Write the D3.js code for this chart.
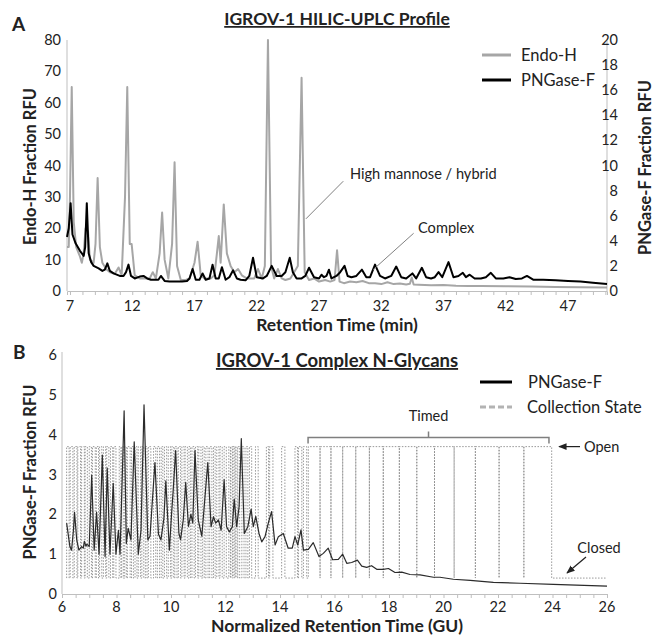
<!DOCTYPE html>
<html>
<head>
<meta charset="utf-8">
<script src="https://cdn.jsdelivr.net/npm/d3@7"></script>
<style>
body { margin: 0; background: #fff; }
text { font-family: Lato, "Open Sans", sans-serif; fill: #222; }
</style>
</head>
<body>
<div id="fig"></div>
<script>
// ---- panel A : HILIC-UPLC profile ----
var ticksA = [7, 12, 17, 22, 27, 32, 37, 42, 47];
var ticksLeftA = [0, 10, 20, 30, 40, 50, 60, 70, 80];
var ticksRightA = [0, 2, 4, 6, 8, 10, 12, 14, 16, 18, 20];

// Endo-H fraction (left axis), [min, RFU]
var endoH = [[6.76,14],[6.9,14],[7.0,30],[7.14,65],[7.3,22],[7.5,14],[7.8,11],[7.95,9],[8.1,12],[8.25,20],[8.45,19],[8.6,10],
  [8.9,9],[9.05,15],[9.22,36],[9.4,14],[9.6,9],[9.9,7],[10.2,6],[10.6,5.5],[10.9,7.5],[11.15,5],[11.42,30],[11.6,65],
  [11.8,15],[11.95,15],[12.2,5],[12.6,4],[13.0,4],[13.4,4],[13.65,6],[13.9,4],[14.2,12],[14.4,25],[14.6,10],[14.9,4],
  [15.2,15],[15.4,41],[15.6,8],[15.9,3.5],[16.3,3.5],[16.6,4],[17.0,9],[17.25,15.7],[17.5,5],[17.8,4],[18.3,4],[18.6,5],
  [18.8,12],[18.95,17.5],[19.1,9],[19.35,27.6],[19.6,12],[19.9,8],[20.2,6],[20.5,7],[20.8,5],[21.2,4],[21.5,4],[21.8,4],
  [22.1,7],[22.4,4],[22.65,8],[22.9,80],[23.15,8],[23.4,4],[23.7,7],[24.0,4],[24.3,3.5],[24.7,4],[25.3,8],[25.6,68],
  [25.85,6],[26.2,3.5],[26.6,4],[27.0,3],[27.5,3.5],[27.9,3],[28.25,3.5],[28.45,13],[28.65,3],[29.0,2.5],[29.5,3],
  [30.0,2.8],[30.5,3.2],[31.0,2.5],[31.5,2.5],[32.0,2.2],[32.5,2.8],[33.0,2.2],[33.5,2.4],[34.0,2.1],[34.3,2.3],
  [34.45,4.3],[34.6,2.1],[35.0,2.0],[36.0,1.8],[37.0,1.9],[38.0,1.7],[39.0,1.6],[40.0,1.6],[42.0,1.5],[44.0,1.4],
  [46.0,1.3],[48.0,1.2],[50.13,1.1]];

// PNGase-F fraction (right axis), [min, RFU]
var pngA = [[6.76,4.3],[6.9,5],[7.05,7.0],[7.2,4.5],[7.45,3.8],[7.8,3.2],[8.1,2.8],[8.22,3.5],[8.35,7.0],[8.5,3.0],
  [8.7,2.3],[8.9,2.0],[9.3,1.8],[9.6,1.6],[9.8,1.7],[10.0,2.2],[10.2,1.6],[10.5,1.4],[11.0,1.2],[11.3,1.2],[11.5,1.5],
  [11.7,2.1],[11.9,1.2],[12.2,1.0],[12.6,1.15],[12.9,1.2],[13.2,1.0],[13.5,0.9],[13.8,0.9],[14.1,0.9],[14.3,1.2],
  [14.6,0.8],[15.0,0.75],[15.5,0.75],[16.0,0.75],[16.4,0.8],[16.6,1.0],[16.85,1.75],[17.1,0.9],[17.4,0.9],[17.65,1.4],
  [17.9,0.9],[18.2,1.0],[18.45,2.1],[18.7,1.0],[18.95,1.0],[19.2,1.9],[19.5,0.9],[19.8,1.1],[20.1,1.65],[20.4,1.0],
  [20.7,0.9],[21.1,0.85],[21.4,1.2],[21.7,2.65],[22.0,1.1],[22.5,1.0],[22.8,1.2],[23.2,2.0],[23.6,1.2],[24.0,1.2],
  [24.3,1.5],[24.65,2.65],[24.9,1.5],[25.2,1.0],[25.6,1.0],[25.9,1.2],[26.2,1.85],[26.6,1.1],[27.0,1.0],[27.2,1.3],
  [27.4,1.1],[27.6,1.2],[27.8,1.7],[28.0,1.0],[28.4,1.2],[28.7,1.5],[29.05,2.0],[29.3,1.2],[29.6,1.1],[30.0,1.2],
  [30.45,1.7],[30.8,1.1],[31.1,1.1],[31.5,2.1],[31.9,1.2],[32.3,1.0],[32.8,1.2],[33.2,1.95],[33.6,1.1],[34.0,1.0],
  [34.5,1.4],[34.8,1.0],[35.26,1.85],[35.6,1.1],[36.0,1.0],[36.3,1.1],[36.6,1.5],[36.9,1.1],[37.4,2.3],[37.8,1.1],
  [38.2,1.2],[38.55,1.45],[38.8,1.1],[39.1,1.3],[39.5,1.0],[40.0,1.0],[40.4,1.1],[40.8,1.45],[41.2,1.0],[41.8,1.0],
  [42.3,1.1],[42.8,0.95],[43.3,1.0],[43.7,1.2],[44.2,0.9],[45.0,0.9],[46.0,0.85],[47.0,0.8],[48.0,0.75],[49.0,0.65],
  [50.13,0.55]];

// ---- panel B : complex N-glycans ----
var ticksB = [6, 8, 10, 12, 14, 16, 18, 20, 22, 24, 26];
var ticksLeftB = [0, 1, 2, 3, 4, 5, 6];

// PNGase-F trace, [GU, RFU]
var pngB = [[6.17,1.78],[6.29,1.19],[6.35,1.1],[6.42,1.6],[6.46,2.05],[6.54,1.36],[6.62,1.1],[6.72,1.19],[6.78,1.15],
  [6.82,1.32],[6.88,1.2],[6.91,1.25],[6.96,1.22],[7.0,1.19],[7.09,2.98],[7.18,1.1],[7.27,2.05],[7.36,1.0],[7.48,3.49],
  [7.58,0.94],[7.66,3.16],[7.76,1.0],[7.88,2.78],[7.98,1.0],[8.07,1.6],[8.13,1.0],[8.28,4.6],[8.36,1.27],[8.43,1.65],
  [8.53,1.36],[8.65,3.82],[8.8,1.0],[8.9,1.6],[9.01,4.75],[9.15,1.36],[9.23,1.45],[9.41,3.3],[9.54,1.5],[9.63,1.36],
  [9.74,1.9],[9.81,2.84],[9.94,1.1],[10.02,2.0],[10.08,2.6],[10.17,3.6],[10.29,1.53],[10.35,1.36],[10.45,1.86],
  [10.54,2.8],[10.64,1.7],[10.73,2.0],[10.8,1.78],[10.88,3.6],[11.0,1.86],[11.13,1.45],[11.35,3.3],[11.47,1.69],
  [11.56,1.94],[11.64,1.78],[11.74,1.86],[11.84,1.6],[11.95,2.87],[12.04,1.69],[12.14,1.56],[12.25,1.69],[12.32,2.38],
  [12.41,1.69],[12.5,2.2],[12.58,3.9],[12.69,1.52],[12.82,1.69],[12.94,2.13],[13.02,1.69],[13.11,1.95],[13.23,1.52],
  [13.33,1.31],[13.45,1.44],[13.57,1.78],[13.69,2.07],[13.82,1.23],[13.94,1.44],[14.12,1.52],[14.3,1.15],[14.45,1.15],
  [14.55,1.44],[14.65,1.23],[14.77,1.61],[14.86,1.1],[15.04,1.12],[15.22,1.29],[15.43,0.94],[15.59,1.02],[15.77,1.15],
  [15.93,0.86],[16.14,0.87],[16.3,1.0],[16.45,0.77],[16.63,0.79],[16.84,0.85],[17.0,0.7],[17.18,0.67],[17.36,0.71],
  [17.55,0.62],[17.79,0.62],[17.98,0.64],[18.22,0.54],[18.47,0.55],[18.77,0.49],[19.14,0.48],[19.63,0.42],[19.87,0.42],
  [20.36,0.37],[20.98,0.34],[21.83,0.29],[22.81,0.27],[24.03,0.24],[26.0,0.2]];

// collection state: open windows before the timed part, [GU start, GU end]
var earlyWindows = [[6.17,6.26],[6.30,6.40],[6.45,6.55],[6.58,6.68],[6.72,6.82],[6.85,6.93],[7.00,7.08],[7.12,7.22],
  [7.26,7.34],[7.38,7.46],[7.52,7.60],[7.64,7.72],[7.78,7.86],[7.90,7.98],[8.10,8.16],[8.19,8.25],[8.30,8.36],
  [8.40,8.50],[8.55,8.62],[8.68,8.75],[8.80,8.88],[8.93,9.00],[9.06,9.12],[9.17,9.26],[9.36,9.44],[9.50,9.58],
  [9.64,9.70],[9.76,9.84],[9.90,9.98],[10.03,10.10],[10.14,10.22],[10.27,10.35],[10.40,10.48],[10.52,10.60],
  [10.66,10.72],[10.77,10.85],[10.90,10.98],[11.02,11.10],[11.16,11.22],[11.28,11.36],[11.42,11.50],[11.56,11.62],
  [11.68,11.76],[11.80,11.88],[11.95,12.03],[12.12,12.18],[12.20,12.26],[12.28,12.34],[12.36,12.42],[12.45,12.52],
  [12.60,12.68],[12.75,12.82],[12.88,12.96],[13.10,13.20],[13.50,13.58],[13.62,13.74],[14.06,14.18],[14.55,14.64],
  [14.68,14.80],[14.86,14.98]];
// timed part: open from start to end, briefly closed at each cut
var timedStart = 15.04, timedEnd = 23.97;
var timedCuts = [15.47, 15.87, 16.30, 16.78, 17.28, 17.79, 18.38, 19.02, 19.67, 20.39, 21.17, 22.04, 22.95];
var stateOpen = 3.7, stateClosed = 0.4;

var W = 654, H = 635;
var svg = d3.select('#fig').append('svg')
    .attr('width', W)
    .attr('height', H);

var axisCol = '#bfbfbf';

// ======== panel A ========
var xA = d3.scaleLinear().domain([6.76, 50.13]).range([67, 607]);
var yL = d3.scaleLinear().domain([0, 80]).range([291, 40]);
var yR = d3.scaleLinear().domain([0, 20]).range([291, 40]);

var gA = svg.append('g');

gA.append('line').attr('x1', xA.range()[0]).attr('x2', xA.range()[0])
    .attr('y1', 40).attr('y2', 291).attr('stroke', axisCol);
gA.append('line').attr('x1', xA.range()[1]).attr('x2', xA.range()[1])
    .attr('y1', 40).attr('y2', 291).attr('stroke', axisCol);

var axA = d3.axisBottom(xA).tickValues(d3.range(7, 51)).tickSize(4).tickFormat('');
gA.append('g').attr('transform', 'translate(0,291)').call(axA)
    .call(function(g){ g.selectAll('line, path').attr('stroke', axisCol); });

gA.selectAll('.xl').data(ticksA).enter().append('text')
    .attr('x', function(d){ return xA(d); })
    .attr('y', 311)
    .attr('text-anchor', 'middle')
    .attr('font-size', 14.5)
    .text(function(d){ return d; });

gA.selectAll('.yl').data(ticksLeftA).enter().append('text')
    .attr('x', 61)
    .attr('y', function(d){ return yL(d) + 5; })
    .attr('text-anchor', 'end')
    .attr('font-size', 14.5)
    .text(function(d){ return d; });

gA.selectAll('.yr').data(ticksRightA).enter().append('text')
    .attr('x', 618)
    .attr('y', function(d){ return yR(d) + 5; })
    .attr('text-anchor', 'end')
    .attr('font-size', 14.5)
    .text(function(d){ return d; });

var lineL = d3.line().x(function(d){ return xA(d[0]); }).y(function(d){ return yL(d[1]); });
var lineR = d3.line().x(function(d){ return xA(d[0]); }).y(function(d){ return yR(d[1]); });

gA.append('path').datum(endoH).attr('d', lineL)
    .attr('fill', 'none').attr('stroke', '#a6a6a6').attr('stroke-width', 2).attr('stroke-linejoin', 'round');
gA.append('path').datum(pngA).attr('d', lineR)
    .attr('fill', 'none').attr('stroke', '#000').attr('stroke-width', 2).attr('stroke-linejoin', 'round');

// legend A
gA.append('line').attr('x1', 482).attr('x2', 511).attr('y1', 55).attr('y2', 55)
    .attr('stroke', '#a6a6a6').attr('stroke-width', 3);
gA.append('text').attr('x', 521).attr('y', 61).attr('font-size', 16.5).text('Endo-H');
gA.append('line').attr('x1', 482).attr('x2', 511).attr('y1', 80).attr('y2', 80)
    .attr('stroke', '#000').attr('stroke-width', 3);
gA.append('text').attr('x', 521).attr('y', 86).attr('font-size', 16.5).text('PNGase-F');

// annotations A
gA.append('line').attr('x1', xA(25.95)).attr('y1', yL(23)).attr('x2', xA(28.95)).attr('y2', yL(35))
    .attr('stroke', '#808080');
gA.append('text').attr('x', 350).attr('y', 179).attr('font-size', 14.6).text('High mannose / hybrid');
gA.append('line').attr('x1', xA(31.35)).attr('y1', yR(1.7)).attr('x2', xA(34.6)).attr('y2', yR(4.6))
    .attr('stroke', '#808080');
gA.append('text').attr('x', 418).attr('y', 233).attr('font-size', 14.6).text('Complex');

// titles A
gA.append('text').attr('x', 337).attr('y', 25).attr('text-anchor', 'middle')
    .attr('font-size', 17.5).attr('font-weight', 'bold').attr('text-decoration', 'underline')
    .text('IGROV-1 HILIC-UPLC Profile');
gA.append('text').attr('x', 12).attr('y', 31).attr('font-size', 19).attr('font-weight', 'bold').text('A');
gA.append('text').attr('x', 337).attr('y', 331).attr('text-anchor', 'middle')
    .attr('font-size', 17.5).attr('font-weight', 'bold').text('Retention Time (min)');
gA.append('text').attr('transform', 'translate(36,166.5) rotate(-90)').attr('text-anchor', 'middle')
    .attr('font-size', 16.5).attr('font-weight', 'bold').text('Endo-H Fraction RFU');
gA.append('text').attr('transform', 'translate(651,167.5) rotate(-90)').attr('text-anchor', 'middle')
    .attr('font-size', 16.5).attr('font-weight', 'bold').text('PNGase-F Fraction RFU');

// ======== panel B ========
var xB = d3.scaleLinear().domain([6, 26]).range([62, 607]);
var yB = d3.scaleLinear().domain([0, 6]).range([594, 355]);

var gB = svg.append('g');

gB.append('line').attr('x1', xB(6)).attr('x2', xB(6))
    .attr('y1', 352).attr('y2', 594).attr('stroke', axisCol);

var axB = d3.axisBottom(xB).tickValues(d3.range(6, 26.01, 0.5)).tickSize(4).tickFormat('');
gB.append('g').attr('transform', 'translate(0,594)').call(axB)
    .call(function(g){ g.selectAll('line, path').attr('stroke', axisCol); });

gB.selectAll('.xl').data(ticksB).enter().append('text')
    .attr('x', function(d){ return xB(d); })
    .attr('y', 612)
    .attr('text-anchor', 'middle')
    .attr('font-size', 14.5)
    .text(function(d){ return d; });

gB.selectAll('.yl').data(ticksLeftB).enter().append('text')
    .attr('x', 57)
    .attr('y', function(d){ return yB(d) + 5; })
    .attr('text-anchor', 'end')
    .attr('font-size', 14.5)
    .text(function(d){ return d; });

// build the collection state step line from the windows
function stateSteps(){
    var pts = [];
    earlyWindows.forEach(function(w){
        pts.push([w[0], stateClosed], [w[0], stateOpen], [w[1], stateOpen], [w[1], stateClosed]);
    });
    pts.push([timedStart, stateClosed], [timedStart, stateOpen]);
    timedCuts.forEach(function(c){
        pts.push([c, stateOpen], [c, stateClosed], [c, stateOpen]);
    });
    pts.push([timedEnd, stateOpen], [timedEnd, stateClosed], [26, stateClosed]);
    return pts;
}

var lineB = d3.line().x(function(d){ return xB(d[0]); }).y(function(d){ return yB(d[1]); });

gB.append('path').datum(stateSteps()).attr('d', lineB)
    .attr('fill', 'none').attr('stroke', '#8c8c8c').attr('stroke-width', 0.9)
    .attr('stroke-dasharray', '1.5,1.5');
gB.append('path').datum(pngB).attr('d', lineB)
    .attr('fill', 'none').attr('stroke', '#2b2b2b').attr('stroke-width', 1.2).attr('stroke-linejoin', 'round');

// legend B
gB.append('line').attr('x1', 480).attr('x2', 512).attr('y1', 382).attr('y2', 382)
    .attr('stroke', '#000').attr('stroke-width', 3);
gB.append('text').attr('x', 528).attr('y', 388).attr('font-size', 16.5).text('PNGase-F');
gB.append('line').attr('x1', 480).attr('x2', 512).attr('y1', 407).attr('y2', 407)
    .attr('stroke', '#b3b3b3').attr('stroke-width', 3).attr('stroke-dasharray', '6,3');
gB.append('text').attr('x', 527).attr('y', 413).attr('font-size', 16.5).text('Collection State');

// "Timed" bracket
var bx0 = xB(15.03), bx1 = xB(23.87), by = yB(3.93), bmid = (bx0 + bx1) / 2;
gB.append('path')
    .attr('d', 'M' + bx0 + ',' + (by + 6) + 'L' + bx0 + ',' + by + 'L' + bx1 + ',' + by + 'L' + bx1 + ',' + (by + 6)
        + 'M' + bmid + ',' + by + 'L' + bmid + ',' + (by - 6))
    .attr('fill', 'none').attr('stroke', '#7f7f7f').attr('stroke-width', 1.5);
gB.append('text').attr('x', bmid).attr('y', 421).attr('text-anchor', 'middle').attr('font-size', 14.5).text('Timed');

// arrows
svg.append('defs').append('marker')
    .attr('id', 'ah').attr('viewBox', '0 0 10 10').attr('refX', 9).attr('refY', 5)
    .attr('markerWidth', 7).attr('markerHeight', 7).attr('orient', 'auto')
  .append('path').attr('d', 'M0,1L10,5L0,9Z').attr('fill', '#222');

gB.append('line').attr('x1', 580).attr('y1', yB(stateOpen)).attr('x2', 559).attr('y2', yB(stateOpen))
    .attr('stroke', '#222').attr('stroke-width', 1.2).attr('marker-end', 'url(#ah)');
gB.append('text').attr('x', 584).attr('y', yB(stateOpen) + 5).attr('font-size', 14.5).text('Open');

gB.append('line').attr('x1', 586).attr('y1', 557).attr('x2', 567).attr('y2', 573)
    .attr('stroke', '#222').attr('stroke-width', 1.2).attr('marker-end', 'url(#ah)');
gB.append('text').attr('x', 599).attr('y', 553).attr('text-anchor', 'middle').attr('font-size', 14.5).text('Closed');

// titles B
gB.append('text').attr('x', 337).attr('y', 367).attr('text-anchor', 'middle')
    .attr('font-size', 18.5).attr('font-weight', 'bold').attr('text-decoration', 'underline')
    .text('IGROV-1 Complex N-Glycans');
gB.append('text').attr('x', 13).attr('y', 359).attr('font-size', 19).attr('font-weight', 'bold').text('B');
gB.append('text').attr('x', 337).attr('y', 632).attr('text-anchor', 'middle')
    .attr('font-size', 17.5).attr('font-weight', 'bold').text('Normalized Retention Time (GU)');
gB.append('text').attr('transform', 'translate(36,472) rotate(-90)').attr('text-anchor', 'middle')
    .attr('font-size', 16.5).attr('font-weight', 'bold').text('PNGase-F Fraction RFU');
</script>
</body>
</html>
